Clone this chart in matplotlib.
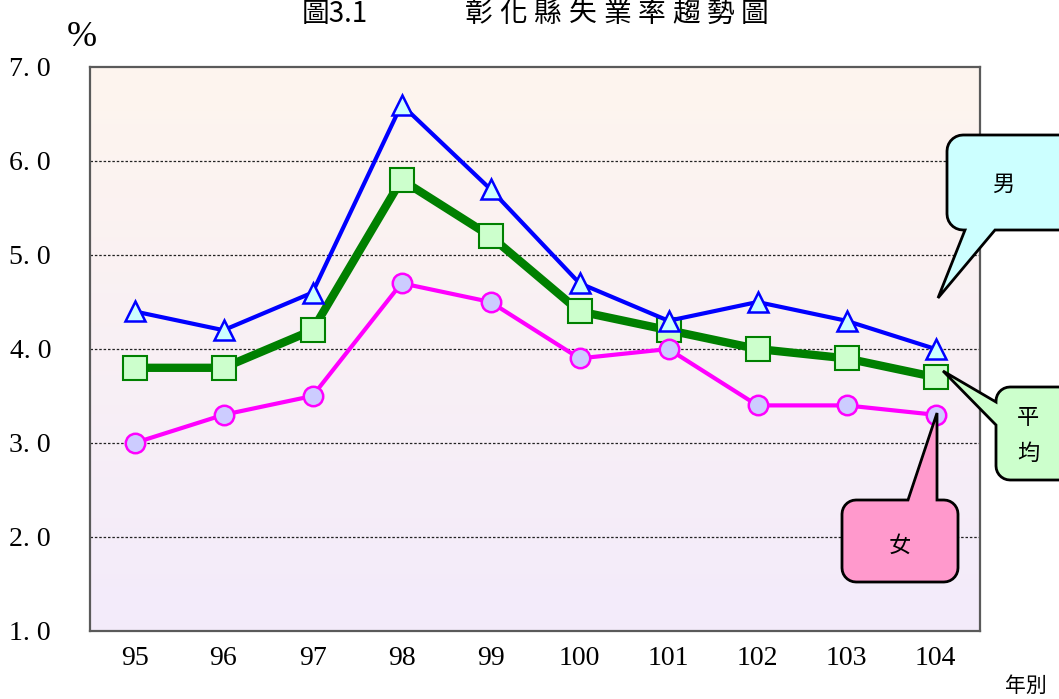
import numpy as np
import matplotlib
matplotlib.use("Agg")
import matplotlib.pyplot as plt
from matplotlib.patches import Polygon

years = ["95", "96", "97", "98", "99", "100", "101", "102", "103", "104"]
male = [4.4, 4.2, 4.6, 6.6, 5.7, 4.7, 4.3, 4.5, 4.3, 4.0]
average = [3.8, 3.8, 4.2, 5.8, 5.2, 4.4, 4.2, 4.0, 3.9, 3.7]
female = [3.0, 3.3, 3.5, 4.7, 4.5, 3.9, 4.0, 3.4, 3.4, 3.3]
yticks = [1.0, 2.0, 3.0, 4.0, 5.0, 6.0, 7.0]
ytick_labels = ["1. 0", "2. 0", "3. 0", "4. 0", "5. 0", "6. 0", "7. 0"]
title_num = "圖3.1"
title_text = "彰化縣失業率趨勢圖"

W, H = 1059, 699
fig = plt.figure(figsize=(W / 100, H / 100), dpi=100)
CJK = ["Noto Sans CJK TC", "DejaVu Sans"]
SERIF = ["Liberation Serif", "DejaVu Serif"]


def px(x, y):
    return (x / W, 1 - y / H)


ax = fig.add_axes([90 / W, 1 - 631 / H, 890 / W, 564 / H])
x = np.arange(len(years))
ax.set_xlim(-0.5, len(years) - 0.5)
ax.set_ylim(1.0, 7.0)

# gradient background
top = np.array([0xfe, 0xf5, 0xee]) / 255
bot = np.array([0xf3, 0xeb, 0xfb]) / 255
t = np.linspace(0, 1, 256)[:, None]
grad = (top[None, :] * (1 - t) + bot[None, :] * t)[:, None, :]
ax.imshow(grad, extent=[-0.5, len(years) - 0.5, 1.0, 7.0], aspect="auto",
          zorder=0, origin="upper")

for yv in yticks[1:-1]:
    ax.axhline(yv, color="#222222", lw=0.9, ls=(0, (2, 1.5)), zorder=1)

ax.plot(x, male, color="#0000ff", lw=3, marker="^", ms=14,
        mfc="#ccffff", mec="#0000ff", mew=1.8, zorder=4, clip_on=False)
ax.plot(x, average, color="#008000", lw=6, marker="s", ms=17,
        mfc="#ccffcc", mec="#008000", mew=1.5, zorder=3, clip_on=False)
ax.plot(x, female, color="#ff00ff", lw=3, marker="o", ms=14,
        mfc="#ccccff", mec="#ff00ff", mew=1.8, zorder=3, clip_on=False)

ax.set_xticks(x)
ax.set_xticklabels(years, fontfamily=SERIF, fontsize=20)
ax.set_yticks(yticks)
ax.set_yticklabels(ytick_labels, fontfamily=SERIF, fontsize=20)
ax.tick_params(axis="both", length=0)
ax.tick_params(axis="x", pad=11)
ax.tick_params(axis="y", pad=28)
for s in ax.spines.values():
    s.set_color("#5a5a5a")
    s.set_linewidth(1.6)


def callout(x0, y0, x1, y1, r, side, pts, fc):
    def arc(cx, cy, a0, a1):
        a = np.radians(np.linspace(a0, a1, 8))
        return list(zip(cx + r * np.cos(a), cy + r * np.sin(a)))
    v = []
    v += [(x0 + r, y0)]
    if side == "top":
        v += pts
    v += [(x1 - r, y0)]
    v += arc(x1 - r, y0 + r, -90, 0)
    if side == "right":
        v += pts
    v += arc(x1 - r, y1 - r, 0, 90)
    if side == "bottom":
        v += pts
    v += arc(x0 + r, y1 - r, 90, 180)
    if side == "left":
        v += pts
    v += arc(x0 + r, y0 + r, 180, 270)
    v = [px(a, b) for a, b in v]
    fig.patches.append(Polygon(v, closed=True, transform=fig.transFigure,
                               fc=fc, ec="black", lw=2, zorder=10,
                               joinstyle="miter"))


callout(947, 135, 1085, 230, 16, "bottom",
        [(995, 230), (938, 298), (965, 230)], "#ccffff")
callout(996, 387, 1085, 480, 14, "left",
        [(996, 425), (943, 371), (996, 402)], "#ccffcc")
callout(842, 500, 958, 582, 14, "top",
        [(908, 500), (937, 413), (937, 500)], "#ff99cc")

fig.text(*px(1003, 184), "男", family=CJK, fontsize=16, ha="center",
         va="center", zorder=11)
fig.text(*px(1028, 418), "平", family=CJK, fontsize=16, ha="center",
         va="center", zorder=11)
fig.text(*px(1028, 453), "均", family=CJK, fontsize=16, ha="center",
         va="center", zorder=11)
fig.text(*px(900, 545), "女", family=CJK, fontsize=16, ha="center",
         va="center", zorder=11)

# title (characters spaced like the reference)
fig.text(*px(302, 14), title_num, family=CJK, fontsize=20, ha="left",
         va="center")
for i, ch in enumerate(title_text):
    fig.text(*px(479 + 34.5 * i, 14), ch, family=CJK, fontsize=20,
             ha="center", va="center")
fig.text(*px(82, 38), "%", family=SERIF, fontsize=26, ha="center",
         va="center")
fig.text(*px(1026, 686), "年別", family=CJK, fontsize=15, ha="center",
         va="center")

fig.savefig("out.png", dpi=100)
